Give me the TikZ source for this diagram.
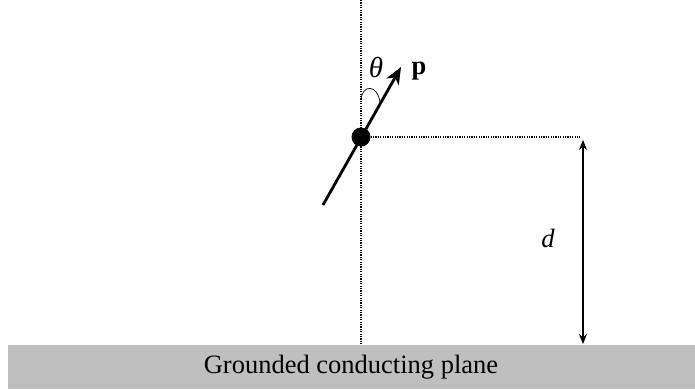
\documentclass[tikz,border=0pt]{standalone}
\usepackage{fontspec}
\setmainfont{Liberation Serif}
\usetikzlibrary{arrows.meta}
\begin{document}
\begin{tikzpicture}[x=1pt,y=-1pt,
  dotline/.style={line width=1.1pt, dash pattern=on 1.2pt off 1.2pt},
  lbl/.style={inner sep=0pt, font=\fontsize{26.5}{30}\selectfont}]
\useasboundingbox (0,0) rectangle (695,389);
\fill[gray!50] (8,345) rectangle (695,389);
\node[lbl] (plane) at (351,367) {Grounded conducting plane};
\coordinate (top) at (361,0);
\coordinate (bot) at (361,345);
\coordinate (hend) at (580,137);
\coordinate (dtop) at (583,140);
\coordinate (dbot) at (583,344);
\coordinate (tail) at (323,205);
\coordinate (tip) at (401,67);
\coordinate (a1) at (361,100);
\coordinate (a2) at (380,103);
\draw[dotline] (top) -- (bot);
\node[circle, fill=black, minimum size=19pt, inner sep=0pt] (q) at (361,137) {};
\draw[dotline] (q.center) -- (hend);
\draw[line width=2.8pt, -{Stealth[length=17pt,width=14pt,inset=5pt]}] (tail) -- (tip);
\draw[line width=0.7pt] (a1) .. controls (362,84) and (378,84) .. (a2);
\draw[line width=1.1pt, {Stealth[length=10pt,width=8pt]}-{Stealth[length=10pt,width=8pt]}] (dtop) -- (dbot);
\node[lbl] (d) at (548,238) {\textit{d}};
\node[lbl, font=\fontsize{29}{32}\selectfont] (th) at (376,67) {\textit{θ}};
\node[lbl] (p) at (419,71) {\textbf{p}};
\end{tikzpicture}
\end{document}
